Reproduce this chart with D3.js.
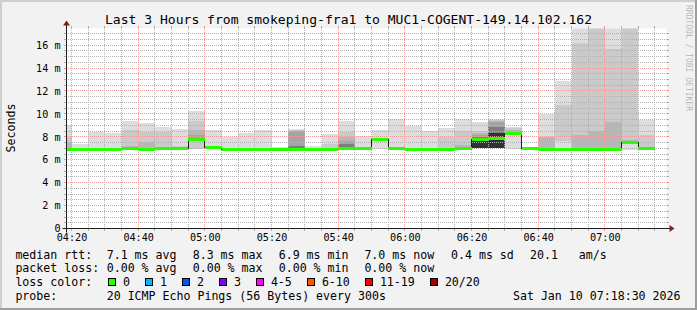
<!DOCTYPE html>
<html>
<head>
<meta charset="utf-8">
<script src="https://cdn.jsdelivr.net/npm/d3@7"></script>
<style>
body { margin: 0; background: #fff; }
svg { display: block; }
text { font-family: "DejaVu Sans Mono", monospace; }
</style>
</head>
<body>
<div id="chart"></div>
<script>
// 5 minute bins (start time), last bin ends 07:15
const binTimes = ["04:15","04:20","04:25","04:30","04:35","04:40","04:45","04:50","04:55",
    "05:00","05:05","05:10","05:15","05:20","05:25","05:30","05:35","05:40","05:45","05:50","05:55",
    "06:00","06:05","06:10","06:15","06:20","06:25","06:30","06:35","06:40","06:45","06:50","06:55",
    "07:00","07:05","07:10"];

// median rtt in ms
const median = [6.92,6.92,6.90,6.92,7.03,6.92,7.03,7.03,7.79,7.09,6.92,6.95,6.95,6.95,6.95,6.97,6.97,7.05,
    7.05,7.85,7.05,6.95,6.95,6.98,7.03,7.85,7.91,8.35,7.03,6.98,6.98,6.95,6.95,6.95,7.55,7.00];

// lost pings per bin (out of 20)
const lossCount = [0,0,0,0,0,0,0,0,0,0,0,0,0,0,0,0,0,0,0,0,0,0,0,0,0,0,0,0,0,0,0,0,0,0,0,0];

// smoke: upper edge of each band, outer (lightest) to inner (darkest); null = no band
const smoke1 = [9.0,7.4,8.4,8.35,9.4,9.2,8.87,8.72,10.26,8.58,8.0,8.35,8.6,7.13,8.69,7.24,8.25,9.36,
    8.05,8.58,9.54,8.93,8.52,8.78,9.54,9.25,9.54,8.87,7.1,9.95,12.85,18.5,19.5,19.0,20.0,9.51];
const smoke2 = [8.0,null,null,null,8.6,8.4,8.4,7.2,9.39,7.2,null,null,null,null,8.6,null,7.4,8.4,
    null,null,null,null,null,7.94,8.52,8.5,9.45,8.75,null,8.0,10.76,16.15,18.5,15.65,18.5,8.14];
const smoke3 = [7.55,null,null,null,7.2,7.55,7.1,null,8.58,null,null,null,null,null,8.55,null,null,7.97,
    null,null,null,null,null,null,7.27,8.3,9.35,8.6,null,7.95,null,8.14,8.49,9.3,7.68,null];
const smoke4 = [null,null,null,null,null,null,null,null,8.14,null,null,null,null,null,8.5,null,null,7.6,
    null,null,null,null,null,null,null,8.14,9.3,8.45,null,null,null,null,null,null,null,null];
const smoke5 = [null,null,null,null,null,null,null,null,7.9,null,null,null,null,null,7.2,null,null,7.35,
    null,null,null,null,null,null,null,7.95,8.87,null,null,null,null,null,null,null,null,null];
const smoke6 = [null,null,null,null,null,null,null,null,null,null,null,null,null,null,null,null,null,7.15,
    null,null,null,null,null,null,null,7.85,8.3,null,null,null,null,null,null,null,null,null];

// lower edges of bands that reach below the median (null = median)
const low1 = [6.9,6.85,6.77,null,null,null,null,null,6.92,null,null,null,null,null,null,null,null,null,
    null,6.98,null,null,null,null,null,7.0,7.0,6.98,null,null,null,null,null,null,6.86,null];
const low2 = [null,null,null,null,null,null,null,null,6.95,null,null,null,null,null,null,null,null,null,
    null,null,null,null,null,null,null,7.0,7.0,null,null,null,7.6,null,null,null,null,null];
const low6 = [null,null,null,null,null,null,null,null,null,null,null,null,null,null,null,null,null,null,
    null,null,null,null,null,null,null,7.0,7.0,null,null,null,null,null,null,null,null,null];

const smokeColors = ["#dddddd", "#cacaca", "#b7b7b7", "#a4a4a4", "#7e7e7e", "#323232"];

const yTicks = [0, 2, 4, 6, 8, 10, 12, 14, 16];
const rttLegend = ["7.1 ms avg", "8.3 ms max", "6.9 ms min", "7.0 ms now", "0.4 ms sd", "20.1", "am/s"];
const lossLegend = ["0.00 % avg", "0.00 % max", "0.00 % min", "0.00 % now"];
const lossLabels = ["0", "1", "2", "3", "4-5", "6-10", "11-19", "20/20"];
const lossColors = ["#26ff00", "#00b8ff", "#0059ff", "#7e00ff", "#ff00ff", "#ff5500", "#ff0000", "#a10000"];
const lossLimits = [0, 1, 2, 3, 5, 10, 19, 20];

const width = 697;
const height = 310;
const X0 = 66.5, X1 = 666.5, Y0 = 228.5, Y1 = 28.5;

const parse = d3.timeParse("%Y-%m-%d %H:%M:%S");
const day = "2026-01-10 ";
const tStart = parse(day + "04:18:30");
const tEnd = parse(day + "07:18:30");

const x = d3.scaleTime().domain([tStart, tEnd]).range([X0, X1]);
const y = d3.scaleLinear().domain([0, 17.45]).range([Y0, Y1]);

const bins = binTimes.map((t, i) => {
    const start = parse(day + t + ":00");
    return { i: i, start: start, end: d3.timeMinute.offset(start, 5) };
});

const svg = d3.select("#chart").append("svg")
    .attr("width", width)
    .attr("height", height);

const gridColor = "#b0b0b0";
const mgridColor = "#e99a9a";

// dotted patterns for the grid (1px on, 1px off)
const defs = svg.append("defs");
function dotPattern(id, w, h, color) {
    defs.append("pattern").attr("id", id)
        .attr("patternUnits", "userSpaceOnUse")
        .attr("width", w).attr("height", h)
        .append("rect").attr("width", 1).attr("height", 1).attr("fill", color);
}
dotPattern("hgrid", 2, 1, gridColor);
dotPattern("vgrid", 1, 2, gridColor);
dotPattern("hmgrid", 2, 1, mgridColor);
dotPattern("vmgrid", 1, 2, mgridColor);

// background + 3d border
svg.append("rect").attr("width", width).attr("height", height).attr("fill", "#f2f2f2");
svg.append("rect").attr("x", 0).attr("y", 0).attr("width", width).attr("height", 2).attr("fill", "#cfcfcf");
svg.append("rect").attr("x", 0).attr("y", 0).attr("width", 2).attr("height", height).attr("fill", "#cfcfcf");
svg.append("rect").attr("x", 0).attr("y", height - 2).attr("width", width).attr("height", 2).attr("fill", "#9e9e9e");
svg.append("rect").attr("x", width - 2).attr("y", 0).attr("width", 2).attr("height", height).attr("fill", "#9e9e9e");

// canvas
svg.append("rect")
    .attr("x", X0).attr("y", Y1)
    .attr("width", X1 - X0).attr("height", Y0 - Y1)
    .attr("fill", "#fff");

svg.append("clipPath").attr("id", "plotclip")
    .append("rect")
    .attr("x", X0).attr("y", Y1)
    .attr("width", X1 - X0).attr("height", Y0 - Y1);

const plot = svg.append("g").attr("clip-path", "url(#plotclip)");

// smoke bands
const smoke = [smoke1, smoke2, smoke3, smoke4, smoke5, smoke6];
const lows = [low1, low2, null, null, null, low6];

smoke.forEach((hi, k) => {
    const lo = lows[k];
    plot.append("g")
        .attr("shape-rendering", "crispEdges")
        .selectAll("rect")
        .data(bins.filter(b => hi[b.i] != null))
        .join("rect")
        .attr("x", b => x(b.start))
        .attr("width", b => x(b.end) - x(b.start))
        .attr("y", b => y(hi[b.i]))
        .attr("height", b => {
            const bottom = lo && lo[b.i] != null ? lo[b.i] : median[b.i];
            return Math.max(0, y(bottom) - y(hi[b.i]));
        })
        .attr("fill", smokeColors[k]);
});

// grid over the smoke
const grid = svg.append("g").attr("shape-rendering", "crispEdges");
const row = v => Math.round(v - 0.5);   // pixel row / column
const GX0 = 67, GX1 = 667, GY0 = 28, GY1 = 228;

const hMinor = d3.range(0.5, 17.45, 0.5).filter(v => v % 2 !== 0);
const hMajor = yTicks.filter(v => v > 0);
const vAll = d3.timeMinute.every(5).range(tStart, tEnd);
const vMinor = vAll.filter(t => t.getMinutes() % 20 !== 0);
const vMajor = vAll.filter(t => t.getMinutes() % 20 === 0);

function hLines(vals, pat, color) {
    grid.append("g").selectAll("rect").data(vals).join("rect")
        .attr("x", GX0).attr("width", GX1 - GX0)
        .attr("y", d => row(y(d))).attr("height", 1)
        .attr("fill", `url(#${pat})`);
    grid.append("g").selectAll("path").data(vals).join("path")
        .attr("d", d => `M${GX0 - 3},${row(y(d)) + 0.5}H${GX0 - 1}M${GX1},${row(y(d)) + 0.5}H${GX1 + 2}`)
        .attr("stroke", color);
}
function vLines(vals, pat, color) {
    grid.append("g").selectAll("rect").data(vals).join("rect")
        .attr("y", GY0).attr("height", GY1 - GY0)
        .attr("x", d => row(x(d))).attr("width", 1)
        .attr("fill", `url(#${pat})`);
    grid.append("g").selectAll("path").data(vals).join("path")
        .attr("d", d => `M${row(x(d)) + 0.5},${GY0 - 2}V${GY0}M${row(x(d)) + 0.5},${GY1 + 1}V${GY1 + 3}`)
        .attr("stroke", color);
}
hLines(hMinor, "hgrid", gridColor);
vLines(vMinor, "vgrid", gridColor);
hLines(hMajor, "hmgrid", mgridColor);
vLines(vMajor, "vmgrid", mgridColor);

// median line (dark) then loss coloured band, above the grid
const overlay = svg.append("g").attr("clip-path", "url(#plotclip)");
const medianPts = bins.map(b => [b.start, median[b.i]]);
medianPts.push([bins[bins.length - 1].end, median[median.length - 1]]);

overlay.append("path")
    .datum(medianPts)
    .attr("fill", "none")
    .attr("stroke", "#202020")
    .attr("stroke-width", 1)
    .attr("shape-rendering", "crispEdges")
    .attr("d", d3.line().x(d => x(d[0])).y(d => Math.round(y(d[1])) + 0.5).curve(d3.curveStepAfter));

function lossColor(n) {
    const idx = lossLimits.findIndex(l => n <= l);
    return lossColors[idx];
}

overlay.append("g")
    .attr("shape-rendering", "crispEdges")
    .selectAll("rect")
    .data(bins)
    .join("rect")
    .attr("x", b => x(b.start))
    .attr("width", b => x(b.end) - x(b.start))
    .attr("y", b => Math.round(y(median[b.i])) - 1)
    .attr("height", 3)
    .attr("fill", b => lossColor(lossCount[b.i]));

// axes lines + arrows
const axisColor = "#1f1f1f";
const arrowColor = "#801f1f";
svg.append("line").attr("x1", X0 - 4).attr("x2", X1 + 4).attr("y1", Y0).attr("y2", Y0)
    .attr("stroke", axisColor);
svg.append("line").attr("x1", X0).attr("x2", X0).attr("y1", Y0 + 4).attr("y2", Y1 - 4)
    .attr("stroke", axisColor);
svg.append("path")
    .attr("d", `M${X1 + 3},${Y0 - 3.5}L${X1 + 8},${Y0}L${X1 + 3},${Y0 + 3.5}Z`)
    .attr("fill", arrowColor);
svg.append("path")
    .attr("d", `M${X0 - 3.5},${Y1 - 3}L${X0},${Y1 - 8}L${X0 + 3.5},${Y1 - 3}Z`)
    .attr("fill", arrowColor);

// axis labels
const yAxis = d3.axisLeft(y)
    .tickValues(yTicks)
    .tickSize(0)
    .tickPadding(6)
    .tickFormat(d => d === 0 ? "0" : d + " m");
const gy = svg.append("g").attr("transform", `translate(${X0},0)`).call(yAxis);
gy.select(".domain").remove();
gy.selectAll("text").attr("font-family", "DejaVu Sans Mono").attr("font-size", "10.15px").attr("fill", "#000");
// keep the "0" clear of the first time label
gy.selectAll("text").filter(d => d === 0).attr("dy", "0.25em");

const xAxis = d3.axisBottom(x)
    .ticks(d3.timeMinute.every(20))
    .tickSize(0)
    .tickPadding(5)
    .tickFormat(d3.timeFormat("%H:%M"));
const gx = svg.append("g").attr("transform", `translate(0,${Y0})`).call(xAxis);
gx.select(".domain").remove();
gx.selectAll("text").attr("font-family", "DejaVu Sans Mono").attr("font-size", "10.15px").attr("fill", "#000");

// title, unit, watermark
svg.append("text")
    .attr("x", 348.5).attr("y", 24)
    .attr("text-anchor", "middle")
    .attr("font-size", "13.05px")
    .text("Last 3 Hours from smokeping-fra1 to MUC1-COGENT-149.14.102.162");

svg.append("text")
    .attr("transform", "translate(15,128) rotate(-90)")
    .attr("text-anchor", "middle")
    .attr("font-size", "11.6px")
    .text("Seconds");

svg.append("text")
    .attr("transform", "translate(685.5,5) rotate(90)")
    .attr("font-size", "8px")
    .attr("fill", "#000")
    .attr("fill-opacity", 0.28)
    .text("RRDTOOL / TOBI OETIKER");

// legend
const legend = svg.append("g").attr("font-size", "11.6px");
const rowY = [258.5, 272.3, 286.1, 299.9];
const col0 = 15.4;

legend.append("text").attr("x", col0).attr("y", rowY[0]).text("median rtt:");
const rttX = [106.7, 192.7, 278.7, 364.4, 451.0, 530.0, 578.7];
legend.append("g").selectAll("text").data(rttLegend).join("text")
    .attr("x", (d, i) => rttX[i]).attr("y", rowY[0]).text(d => d);

legend.append("text").attr("x", col0).attr("y", rowY[1]).text("packet loss:");
legend.append("g").selectAll("text").data(lossLegend).join("text")
    .attr("x", (d, i) => rttX[i]).attr("y", rowY[1]).text(d => d);

legend.append("text").attr("x", col0).attr("y", rowY[2]).text("loss color:");
const swatchX = [108.5, 145.5, 182.5, 219.5, 256.5, 307.5, 365.5, 430.5];
const sw = legend.append("g").selectAll("g").data(lossLabels).join("g");
sw.append("rect")
    .attr("x", (d, i) => swatchX[i]).attr("y", 278.5)
    .attr("width", 7).attr("height", 7)
    .attr("fill", (d, i) => lossColors[i])
    .attr("stroke", "#000").attr("stroke-width", 1)
    .attr("shape-rendering", "crispEdges");
sw.append("text")
    .attr("x", (d, i) => swatchX[i] + 14.4).attr("y", rowY[2])
    .text(d => d);

legend.append("text").attr("x", col0).attr("y", rowY[3]).text("probe:");
legend.append("text").attr("x", 106.7).attr("y", rowY[3]).text("20 ICMP Echo Pings (56 Bytes) every 300s");
legend.append("text").attr("x", 680.5).attr("y", rowY[3]).attr("text-anchor", "end")
    .text("Sat Jan 10 07:18:30 2026");
</script>
</body>
</html>
